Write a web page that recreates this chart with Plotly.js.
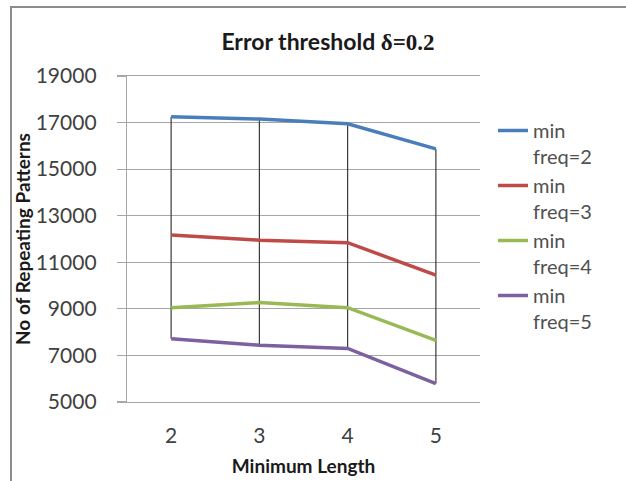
<!DOCTYPE html>
<html>
<head>
<meta charset="utf-8">
<script src="https://cdn.plot.ly/plotly-3.0.1.min.js"></script>
<style>html,body{margin:0;padding:0;background:#fff;}#chart{width:626px;height:481px;}</style>
</head>
<body>
<div id="chart"></div>
<script>
const categories = ['2', '3', '4', '5'];
const seriesNames = ['min<br>freq=2', 'min<br>freq=3', 'min<br>freq=4', 'min<br>freq=5'];
const freq2 = [17250, 17150, 16950, 15870];
const freq3 = [12170, 11950, 11840, 10450];
const freq4 = [9050, 9270, 9050, 7650];
const freq5 = [7720, 7440, 7300, 5790];
const yTicks = [5000, 7000, 9000, 11000, 13000, 15000, 17000, 19000];
const yTickText = ['5000', '7000', '9000', '11000', '13000', '15000', '17000', '19000'];

const allSeries = [freq2, freq3, freq4, freq5];
const colors = ['#4a7ebb', '#be4b48', '#98b954', '#7d60a0'];

// high-low lines (Excel style) derived from the series
const hlX = [], hlY = [];
categories.forEach((c, i) => {
  const vals = allSeries.map(s => s[i]);
  hlX.push(c, c, null);
  hlY.push(Math.max(...vals), Math.min(...vals), null);
});

const traces = [{
  x: hlX, y: hlY, mode: 'lines', type: 'scatter',
  line: {color: '#3a3a3a', width: 1.2},
  showlegend: false, hoverinfo: 'skip'
}];
allSeries.forEach((s, k) => {
  traces.push({
    x: categories, y: s, name: seriesNames[k], mode: 'lines', type: 'scatter',
    line: {color: colors[k], width: 3.5}
  });
});

const font = {family: 'Lato, "Open Sans", sans-serif', color: '#404040'};
const layout = {
  width: 626, height: 481,
  margin: {l: 127, r: 146, t: 76, b: 79, pad: 0},
  paper_bgcolor: '#ffffff', plot_bgcolor: '#ffffff',
  font: font,
  title: {
    text: 'Error threshold <span style="font-family:\'Liberation Serif\'">δ=0.2</span>',
    font: {family: 'Lato, sans-serif', size: 23, color: '#1a1a1a', weight: 'bold'},
    x: 328 / 626, xref: 'container', xanchor: 'center',
    y: 1 - 42/481, yref: 'container', yanchor: 'middle'
  },
  xaxis: {
    type: 'category', categoryorder: 'array', categoryarray: categories,
    range: [-0.5, 3.5], showgrid: false, zeroline: false,
    showline: true, mirror: true, linecolor: '#a6a6a6', linewidth: 1.2,
    ticks: '', ticklabelstandoff: 15,
    tickfont: {size: 21, color: '#404040'},
    title: {text: 'Minimum Length', standoff: 13,
      font: {size: 19, color: '#1a1a1a', weight: 'bold'}}
  },
  yaxis: {
    range: [5000, 19000], tickmode: 'array', tickvals: yTicks, ticktext: yTickText,
    showgrid: true, gridcolor: '#a6a6a6', gridwidth: 1.2, zeroline: false,
    showline: true, linecolor: '#a6a6a6', linewidth: 1.2,
    ticks: 'outside', ticklen: 9, tickcolor: '#a6a6a6', tickwidth: 1.2,
    ticklabelstandoff: 16,
    tickfont: {size: 21, color: '#404040'},
    title: {text: 'No of Repeating Patterns', standoff: 0,
      font: {size: 19, color: '#1a1a1a', weight: 'bold'}}
  },
  legend: {
    x: (493 - 127) / 353, xanchor: 'left', y: (402 - 111) / 326, yanchor: 'top',
    valign: 'top', bgcolor: 'rgba(0,0,0,0)', borderwidth: 0,
    font: {size: 20, color: '#505050'}, traceorder: 'normal'
  },
  shapes: [{
    type: 'rect', xref: 'paper', yref: 'paper',
    x0: (11 - 127) / 353, x1: (640 - 127) / 353,
    y0: (402 - 495) / 326, y1: (402 - 7) / 326,
    line: {color: '#8c8c8c', width: 2}, fillcolor: 'rgba(0,0,0,0)', layer: 'below'
  }],
  showlegend: true
};

Plotly.newPlot('chart', traces, layout, {displayModeBar: false, staticPlot: true});
</script>
</body>
</html>
